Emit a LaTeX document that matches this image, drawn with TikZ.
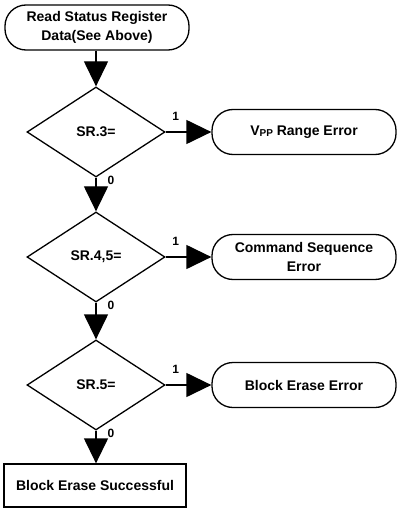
\documentclass[tikz,border=0pt]{standalone}
\usepackage{fontspec}
\setmainfont{Liberation Sans}
\usetikzlibrary{shapes.geometric,arrows.meta}

\tikzstyle{terminal}=[draw,line width=1.3pt,rounded corners=21pt,minimum width=184pt,minimum height=45pt,align=center,inner sep=0pt,font=\bfseries\fontsize{14}{19}\selectfont]
\tikzstyle{decision}=[draw,line width=1.3pt,diamond,minimum width=138pt,minimum height=90pt,inner sep=0pt,font=\bfseries\fontsize{14}{17}\selectfont]
\tikzstyle{process}=[draw,line width=1.3pt,minimum width=182pt,minimum height=43pt,inner sep=0pt,font=\bfseries\fontsize{14}{17}\selectfont]
\tikzstyle{flow}=[draw,line width=1.3pt,-{Triangle[length=25pt,width=24pt]}]
\tikzstyle{weight}=[font=\bfseries\fontsize{12}{14}\selectfont,inner sep=0pt]

\begin{document}
\begin{tikzpicture}[x=1pt,y=1pt]
  \useasboundingbox (0,0) rectangle (398,-513);

  % Start and end of the check
  \node[terminal] (start) at (97,-27.5) {Read Status Register\\Data(See Above)};
  \node[process] (done) at (95,-485.5) {Block Erase Successful};

  % Each status bit test with its error exit
  \foreach \y/\name/\test/\err in {{-132/d1/{SR.3=}/{V\raisebox{-1.5pt}{\fontsize{10}{10}\selectfont PP} Range Error}},
                                   {-257/d2/{SR.4,5=}/{Command Sequence\\Error}},
                                   {-385/d3/{SR.5=}/{Block Erase Error}}} {
    \node[decision] (\name) at (96,\y) {\test};
    \node[terminal] (\name-err) at (304,\y) {\err};
  }

  % Connect the steps
  \path[flow] (start.south -| d1) -- (d1);
  \foreach \source/\dest in {d1/d2, d2/d3}
    \path[flow] (\source) -- (\dest);
  \path[flow] (d3) -- (d3 |- done.north);

  \foreach \name in {d1,d2,d3} {
    \path[flow] (\name) -- (\name-err);
    \node[weight] (\name-yes) at ([xshift=10pt,yshift=16pt]\name.east) {1};
    \node[weight] (\name-no) at ([xshift=15pt,yshift=-3pt]\name.south) {0};
  }
\end{tikzpicture}
\end{document}
